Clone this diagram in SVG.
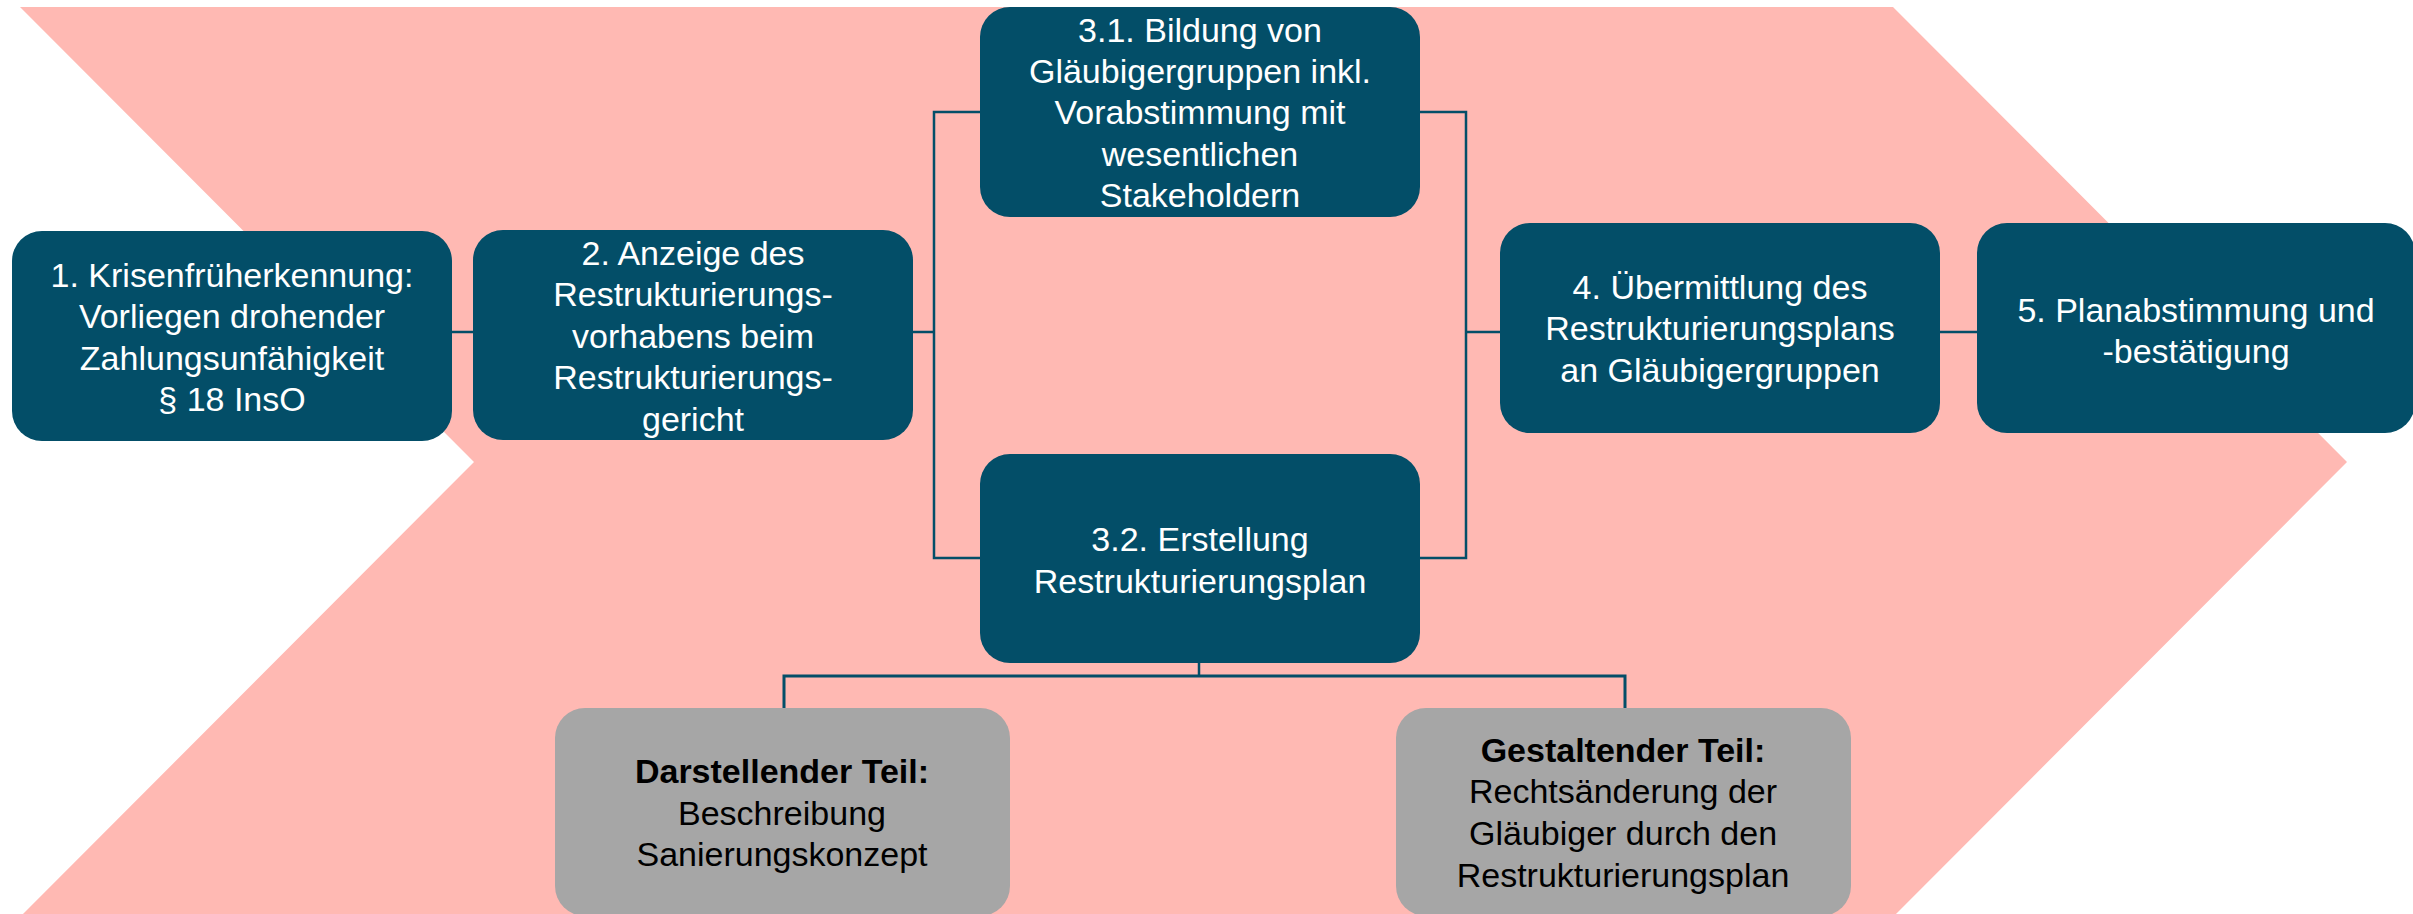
<svg xmlns="http://www.w3.org/2000/svg" width="2413" height="914" viewBox="0 0 2413 914">
<style>
.box{fill:#034E68;}
.gbox{fill:#A6A6A6;}
.t{font-family:"Liberation Sans",Arial,sans-serif;font-size:34px;fill:#FFFFFF;text-anchor:middle;}
.g{font-family:"Liberation Sans",Arial,sans-serif;font-size:34px;fill:#000000;text-anchor:middle;}
.b{font-weight:bold;}
.c{fill:none;stroke:#034E68;stroke-width:2.5;}
</style>
<rect x="0" y="0" width="2413" height="914" fill="#FFFFFF"/>
<polygon id="arrow-bg" points="20,7 1893,7 2347,462 1893,917 20,917 474,462" fill="#FFB9B3"/>
<g id="connectors">
<line class="c" x1="452" y1="332" x2="473" y2="332"/>
<line class="c" x1="913" y1="332" x2="934" y2="332"/>
<polyline class="c" points="980,112 934,112 934,558 980,558"/>
<polyline class="c" points="1420,112 1466,112 1466,558 1420,558"/>
<line class="c" x1="1466" y1="332" x2="1500" y2="332"/>
<line class="c" x1="1940" y1="332" x2="1977" y2="332"/>
<line class="c" x1="1199" y1="663" x2="1199" y2="676"/>
<polyline class="c" style="stroke-width:3" points="784,708 784,676 1625,676 1625,708"/>
</g>
<g id="n1">
<rect class="box" x="12" y="231" width="440" height="210" rx="30"/>
<text class="t" x="232" y="287">1. Krisenfrüherkennung:</text>
<text class="t" x="232" y="328">Vorliegen drohender</text>
<text class="t" x="232" y="370">Zahlungsunfähigkeit</text>
<text class="t" x="232" y="411">§ 18 InsO</text>
</g>
<g id="n2">
<rect class="box" x="473" y="230" width="440" height="210" rx="30"/>
<text class="t" x="693" y="265">2. Anzeige des</text>
<text class="t" x="693" y="306">Restrukturierungs-</text>
<text class="t" x="693" y="348">vorhabens beim</text>
<text class="t" x="693" y="389">Restrukturierungs-</text>
<text class="t" x="693" y="431">gericht</text>
</g>
<g id="n31">
<rect class="box" x="980" y="7" width="440" height="210" rx="30"/>
<text class="t" x="1200" y="42">3.1. Bildung von</text>
<text class="t" x="1200" y="83">Gläubigergruppen inkl.</text>
<text class="t" x="1200" y="124">Vorabstimmung mit</text>
<text class="t" x="1200" y="166">wesentlichen</text>
<text class="t" x="1200" y="207">Stakeholdern</text>
</g>
<g id="n32">
<rect class="box" x="980" y="454" width="440" height="209" rx="30"/>
<text class="t" x="1200" y="551">3.2. Erstellung</text>
<text class="t" x="1200" y="593">Restrukturierungsplan</text>
</g>
<g id="n4">
<rect class="box" x="1500" y="223" width="440" height="210" rx="30"/>
<text class="t" x="1720" y="299">4. Übermittlung des</text>
<text class="t" x="1720" y="340">Restrukturierungsplans</text>
<text class="t" x="1720" y="382">an Gläubigergruppen</text>
</g>
<g id="n5">
<rect class="box" x="1977" y="223" width="438" height="210" rx="30"/>
<text class="t" x="2196" y="322">5. Planabstimmung und</text>
<text class="t" x="2196" y="363">-bestätigung</text>
</g>
<g id="g1">
<rect class="gbox" x="555" y="708" width="455" height="208" rx="30"/>
<text class="g b" x="782" y="783">Darstellender Teil:</text>
<text class="g" x="782" y="825">Beschreibung</text>
<text class="g" x="782" y="866">Sanierungskonzept</text>
</g>
<g id="g2">
<rect class="gbox" x="1396" y="708" width="455" height="208" rx="30"/>
<text class="g b" x="1623" y="762">Gestaltender Teil:</text>
<text class="g" x="1623" y="803">Rechtsänderung der</text>
<text class="g" x="1623" y="845">Gläubiger durch den</text>
<text class="g" x="1623" y="887">Restrukturierungsplan</text>
</g>
</svg>
